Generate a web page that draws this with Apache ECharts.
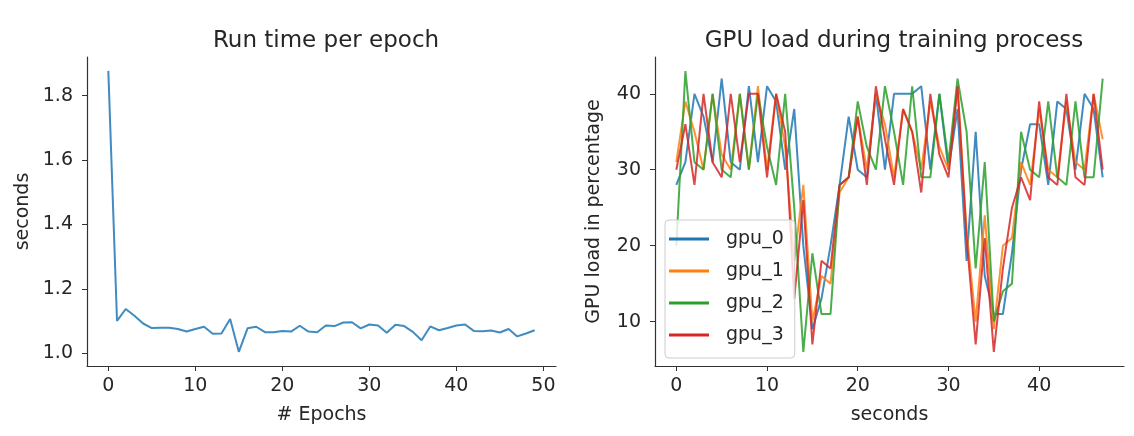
<!DOCTYPE html>
<html lang="en">
<head>
    <meta charset="UTF-8">
    <title>Training stats</title>
    <script type="text/javascript" src="https://cdn.jsdelivr.net/npm/echarts@6/dist/echarts.min.js"></script>
</head>
<body style="margin:0">
<div id="chartmain" style="width:1134px;height:436px"></div>
<script>
    // run time per epoch (left)
    var epochTimes = [1.877, 1.100, 1.137, 1.116, 1.092, 1.078, 1.079, 1.079, 1.075, 1.067,
        1.075, 1.082, 1.060, 1.061, 1.106, 1.004, 1.077, 1.082, 1.065, 1.065,
        1.069, 1.067, 1.085, 1.067, 1.065, 1.086, 1.084, 1.095, 1.096, 1.077,
        1.089, 1.086, 1.063, 1.088, 1.084, 1.066, 1.040, 1.083, 1.071, 1.078,
        1.086, 1.089, 1.069, 1.068, 1.070, 1.064, 1.075, 1.052, 1.061, 1.071];

    // gpu load per second (right)
    var gpu0 = [28, 31, 40, 37, 31, 42, 31, 30, 41, 31, 41, 39, 30, 38, 20, 9, 13, 20, 28, 37,
        30, 29, 40, 30, 40, 40, 40, 41, 30, 40, 30, 38, 18, 35, 16, 11, 11, 19, 30, 36,
        36, 28, 39, 38, 30, 40, 38, 29];
    var gpu1 = [31, 39, 35, 30, 40, 32, 30, 40, 30, 41, 30, 40, 33, 18, 28, 10, 16, 15, 27, 29,
        37, 30, 40, 36, 29, 38, 35, 30, 39, 33, 30, 41, 22, 10, 24, 9, 20, 21, 31, 28,
        38, 30, 29, 39, 31, 30, 40, 34];
    var gpu2 = [20, 43, 31, 30, 40, 30, 29, 40, 30, 40, 33, 28, 40, 25, 6, 19, 11, 11, 28, 29,
        39, 33, 30, 41, 35, 28, 41, 29, 29, 40, 31, 42, 35, 17, 31, 10, 14, 15, 35, 30,
        29, 39, 29, 28, 39, 29, 29, 42];
    var gpu3 = [30, 36, 28, 40, 31, 29, 40, 31, 40, 40, 29, 40, 35, 13, 26, 7, 18, 17, 28, 29,
        37, 28, 41, 34, 28, 38, 35, 27, 40, 32, 29, 41, 21, 7, 21, 6, 17, 25, 29, 26,
        39, 29, 28, 40, 29, 28, 40, 30];
    var gpuNames = ['gpu_0', 'gpu_1', 'gpu_2', 'gpu_3'];
    var colors = ['#1f77b4', '#ff7f0e', '#2ca02c', '#d62728'];

    var epochTicks = [0, 10, 20, 30, 40, 50];
    var secTicks = [1.0, 1.2, 1.4, 1.6, 1.8];
    var gpuXTicks = [0, 10, 20, 30, 40];
    var gpuYTicks = [10, 20, 30, 40];

    function pairs(arr) {
        var out = [];
        for (var i = 0; i < arr.length; i++) out.push([i, arr[i]]);
        return out;
    }

    var font = 'DejaVu Sans';
    var txt = '#262626';

    function xAxis(idx, min, max, ticks, name) {
        return {
            type: 'value', gridIndex: idx, min: min, max: max,
            name: name, nameLocation: 'middle', nameGap: 40,
            nameTextStyle: {fontFamily: font, fontSize: 19, color: txt},
            axisLine: {show: true, onZero: false, lineStyle: {color: '#333', width: 1.2}},
            axisTick: {show: true, length: 5, customValues: ticks, lineStyle: {color: '#333'}},
            axisLabel: {customValues: ticks, margin: 11, fontFamily: font, fontSize: 19, color: txt},
            splitLine: {show: false}
        };
    }
    function yAxis(idx, min, max, ticks, name, gap, fmt) {
        return {
            type: 'value', gridIndex: idx, min: min, max: max,
            name: name, nameLocation: 'middle', nameGap: gap,
            nameTextStyle: {fontFamily: font, fontSize: 19, color: txt},
            axisLine: {show: true, onZero: false, lineStyle: {color: '#333', width: 1.2}},
            axisTick: {show: true, length: 5, customValues: ticks, lineStyle: {color: '#333'}},
            axisLabel: {customValues: ticks, margin: 14, fontFamily: font, fontSize: 19, color: txt, formatter: fmt},
            splitLine: {show: false}
        };
    }

    var series = [{
        type: 'line', xAxisIndex: 0, yAxisIndex: 0, data: pairs(epochTimes),
        symbol: 'none', lineStyle: {color: colors[0], width: 2, opacity: 0.85},
        itemStyle: {color: colors[0]}
    }];
    var gpus = [gpu0, gpu1, gpu2, gpu3];
    for (var g = 0; g < gpus.length; g++) {
        series.push({
            name: gpuNames[g], type: 'line', xAxisIndex: 1, yAxisIndex: 1, data: pairs(gpus[g]),
            symbol: 'none', lineStyle: {color: colors[g], width: 2, opacity: 0.85},
            itemStyle: {color: colors[g]}
        });
    }

    var option = {
        animation: false,
        backgroundColor: '#fff',
        title: [
            {text: 'Run time per epoch', left: 321, top: 25, textAlign: 'center',
                textStyle: {fontFamily: font, fontSize: 23, fontWeight: 'normal', color: txt}},
            {text: 'GPU load during training process', left: 889, top: 25, textAlign: 'center',
                textStyle: {fontFamily: font, fontSize: 23, fontWeight: 'normal', color: txt}}
        ],
        grid: [
            {left: 87, top: 57, width: 469, height: 309},
            {left: 655, top: 57, width: 469, height: 309}
        ],
        legend: {
            data: gpuNames, orient: 'vertical', left: 665, top: 220,
            icon: 'rect', itemWidth: 40, itemHeight: 3, itemGap: 12,
            padding: [9, 11, 13, 4],
            backgroundColor: 'rgba(255,255,255,0.8)', borderColor: '#ccc', borderWidth: 1, borderRadius: 4,
            textStyle: {fontFamily: font, fontSize: 19, color: txt, lineHeight: 20, padding: [0, 0, 0, 12]}
        },
        xAxis: [
            xAxis(0, -2.45, 51.45, epochTicks, '# Epochs'),
            xAxis(1, -2.35, 49.35, gpuXTicks, 'seconds')
        ],
        yAxis: [
            yAxis(0, 0.96, 1.92, secTicks, 'seconds', 54, function (v) { return v.toFixed(1); }),
            yAxis(1, 4.15, 44.85, gpuYTicks, 'GPU load in percentage', 51, null)
        ],
        series: series
    };

    var myChart = echarts.init(document.getElementById('chartmain'));
    myChart.setOption(option);
</script>
</body>
</html>
